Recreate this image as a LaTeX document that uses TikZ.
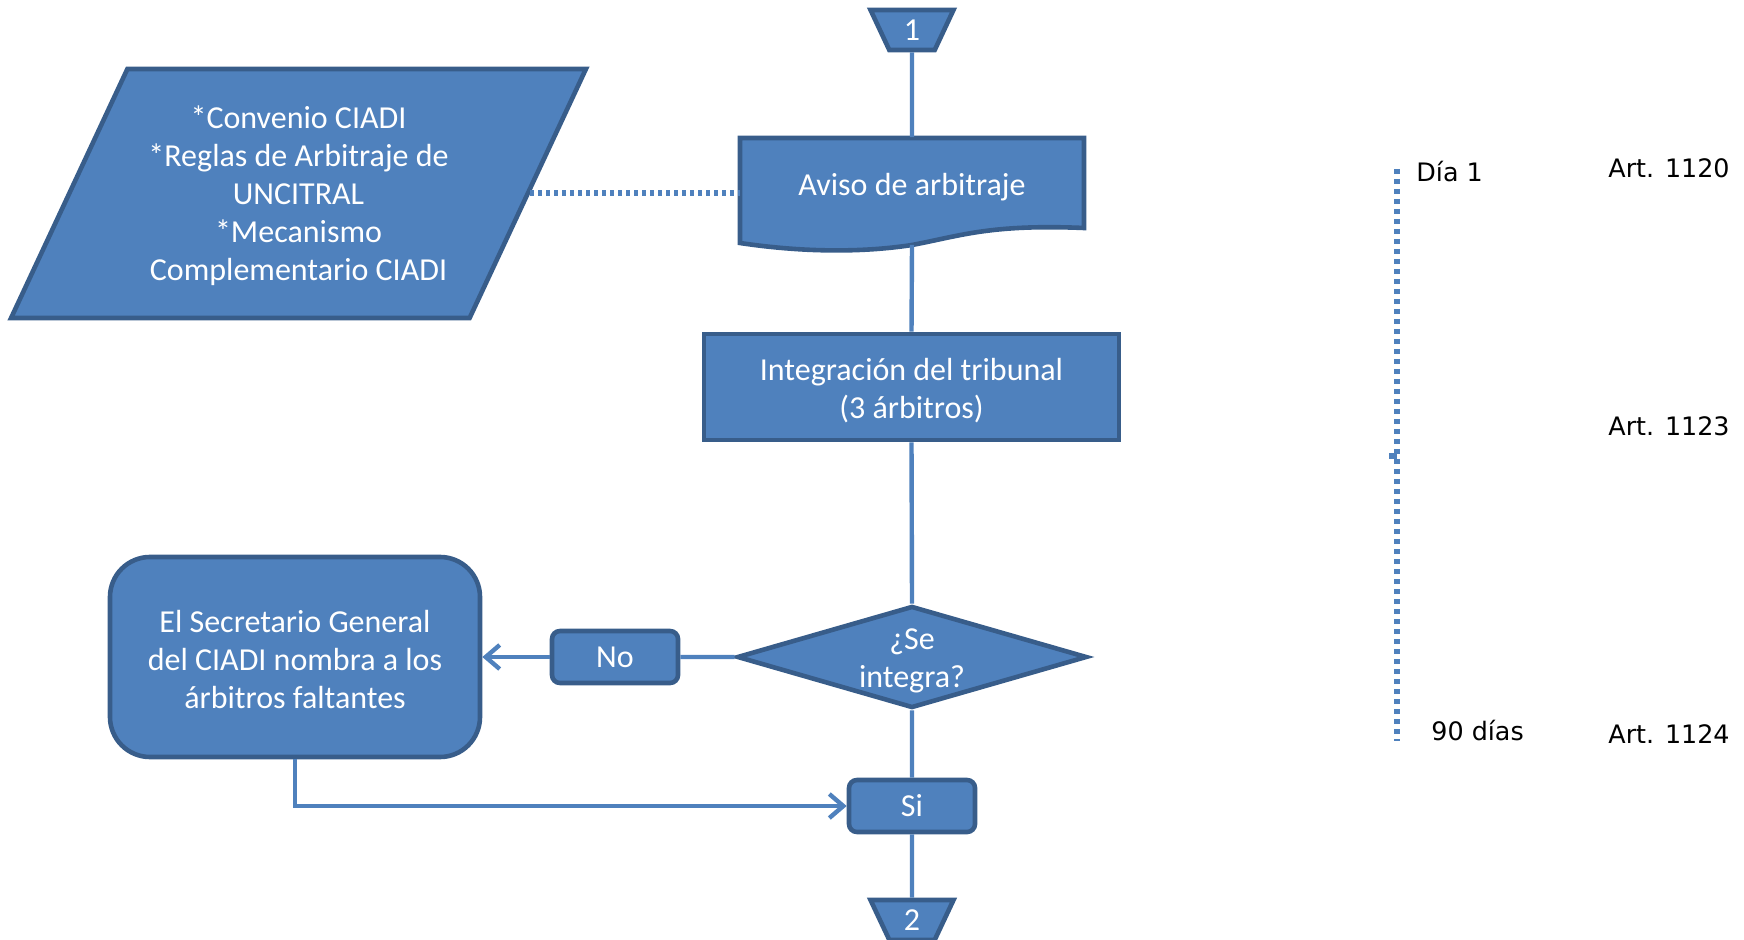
\documentclass[tikz,border=0pt]{standalone}
\usepackage{fontspec}
\setmainfont{Carlito}
\newfontfamily\dejavu{DejaVu Sans}
\usetikzlibrary{shapes.geometric,arrows.meta}
\definecolor{ofblue}{HTML}{4F81BD}
\definecolor{ofdark}{HTML}{385D8A}
\newcommand\lft[1]{\rule{0pt}{#1}}
\begin{document}
\begin{tikzpicture}[x=.5pt,y=-.5pt,
  shp/.style={draw=ofdark,fill=ofblue,line width=2.3pt},
  box/.style={shp,text=white,font=\fontsize{16}{19}\selectfont,align=center,inner sep=0pt},
  txt/.style={text=white,font=\fontsize{16}{19}\selectfont,align=center,inner sep=0pt},
  conn/.style={box,trapezium,trapezium angle=72,shape border rotate=180,trapezium stretches=true,minimum width=41.5pt,minimum height=20pt},
  flow/.style={draw=ofblue,line width=2.2pt},
  arr/.style={flow,-{Straight Barb[length=7pt,width=12pt]}},
  dots/.style={draw=ofblue,line width=3pt,dash pattern=on 2.5pt off 2.5pt},
  side/.style={font=\dejavu\fontsize{12.7}{15}\selectfont,anchor=west,inner sep=0pt}]
\useasboundingbox (0,0) rectangle (1744,940);
% off-page connectors
\node[conn] (c1) at (912,30) {1};
\node[conn] (c2) at (912,920) {2};
% aviso (document shape)
\filldraw[shp] (740,138) -- (1084,138) -- (1084,228)
   .. controls (990,224) and (960,236) .. (912,245)
   .. controls (860,253) and (800,252) .. (740,243) -- cycle;
\node[txt,minimum width=172pt,minimum height=53.5pt,text depth=7pt] (aviso) at (912,191) {Aviso de arbitraje};
\node[box,trapezium,trapezium left angle=61,trapezium right angle=119,trapezium stretches=true,
      minimum width=287.5pt,minimum height=124.5pt] (regl) at (298.5,193.5)
      {\lft{13.4pt}*Convenio CIADI\\*Reglas de Arbitraje de\\UNCITRAL\\*Mecanismo\\Complementario CIADI};
\node[box,minimum width=207.5pt,minimum height=53pt] (integ) at (911.5,387) {\lft{14.4pt}Integración del tribunal\\(3 árbitros)};
\node[box,diamond,aspect=3.43,inner ysep=-1pt,minimum width=175pt,minimum height=51pt] (dec) at (912,657) {\lft{14.7pt}¿Se\\integra?};
\node[box,rounded corners=4pt,minimum width=63pt,minimum height=26pt] (no) at (615,657) {No};
\node[box,rounded corners=20pt,minimum width=185pt,minimum height=100pt] (secr) at (295,657)
      {\lft{13.6pt}El Secretario General\\del CIADI nombra a los\\árbitros faltantes};
\node[box,rounded corners=4pt,minimum width=63pt,minimum height=26pt] (si) at (912,806) {Si};
% connectors
\draw[flow] (c1.south) -- (aviso.north) (aviso.south) -- (integ.north)
            (integ.south) -- (dec.north) (dec.west) -- (no.east)
            (dec.south) -- (si.north) (si.south) -- (c2.north);
\draw[arr] (no.west) -- (secr.east);
\draw[arr] (secr.south) |- (si.west);
\draw[dots,dash pattern=on 2pt off 2pt] (regl.east) -- (aviso.west |- regl.east);
% time line
\coordinate (t1) at (1397,169);
\coordinate (t2) at (1397,741);
\draw[dots] (t1) -- (t2);
\draw[ofblue,line width=3pt] (1389,456) -- (1397,456);
\node[side] (dia1) at (1416,172) {Día 1};
\node[side] (dias) at (1431,731) {90 días};
\node[side] (art1) at (1608,168) {Art. 1120};
\node[side] (art2) at (1608,426) {Art. 1123};
\node[side] (art3) at (1608,734) {Art. 1124};
\end{tikzpicture}
\end{document}
